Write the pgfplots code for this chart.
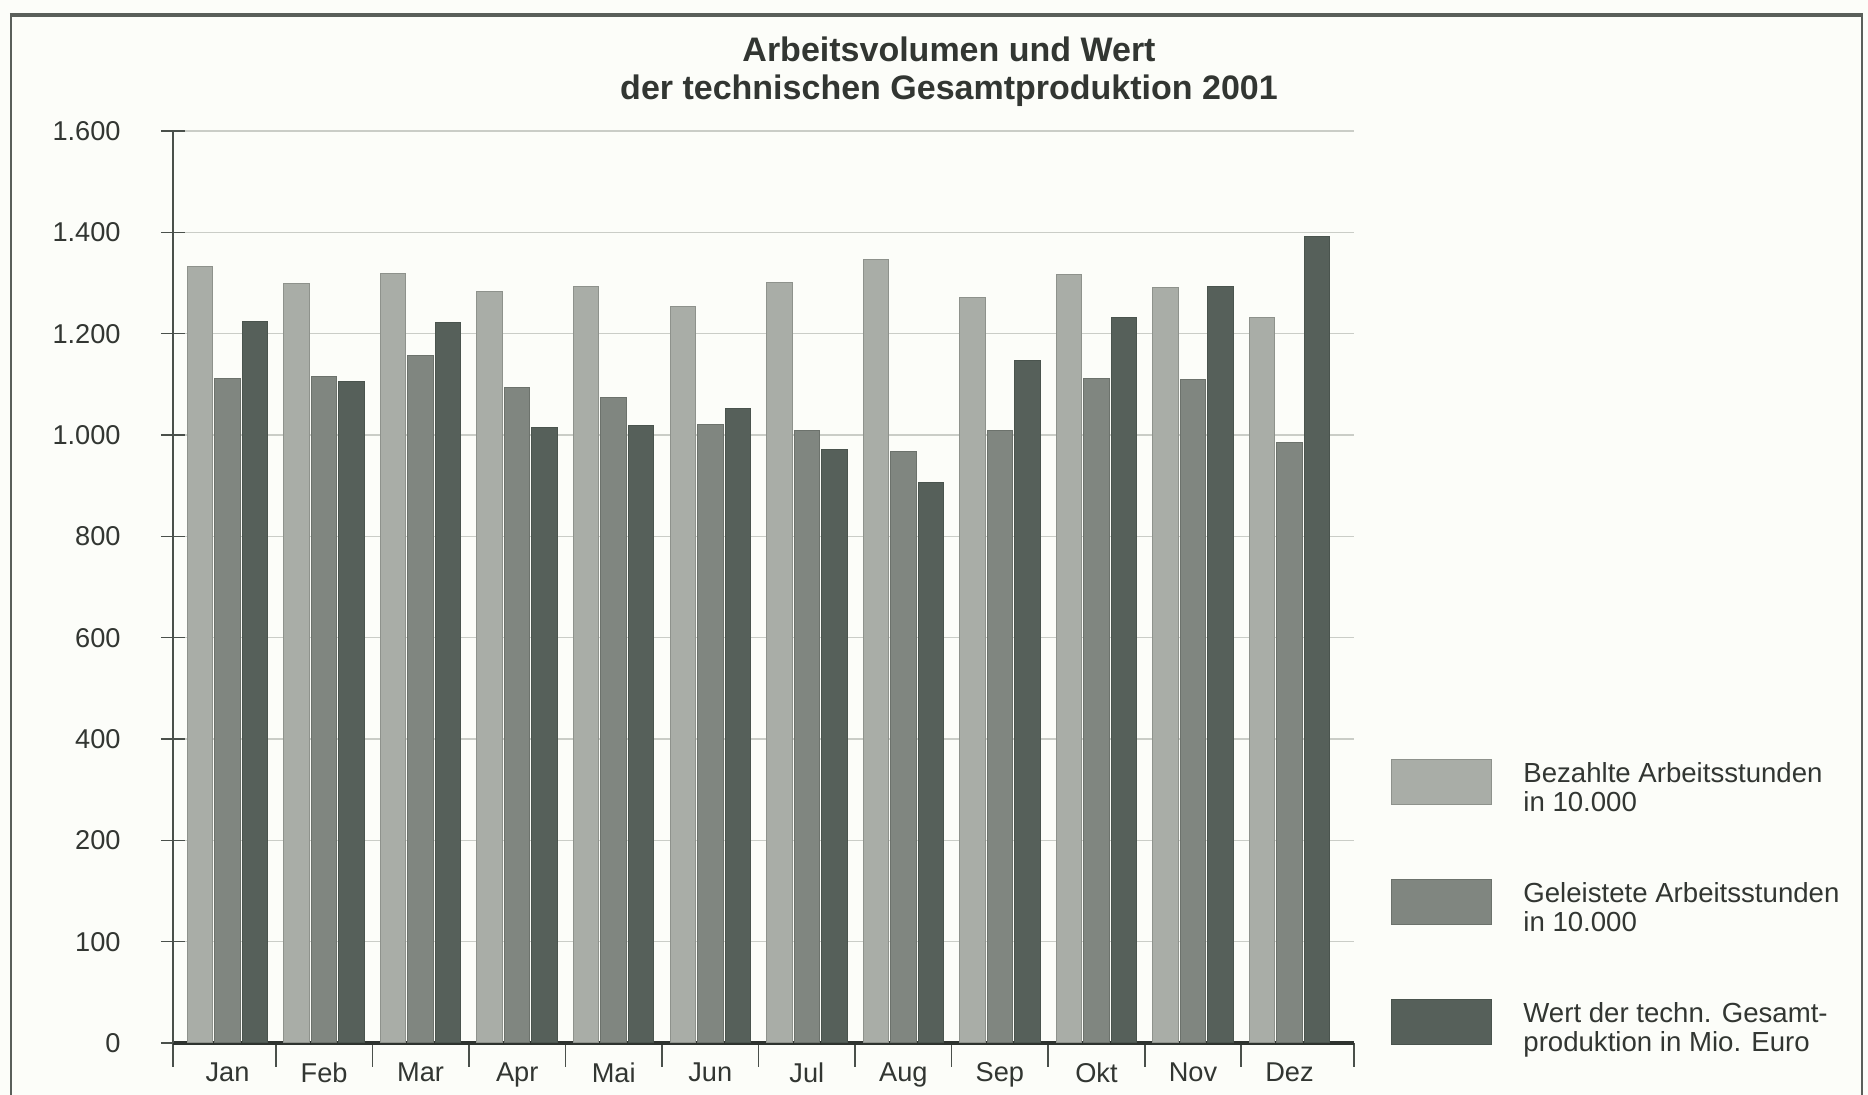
\documentclass[border=0pt]{standalone}
\usepackage{fontspec}
\setmainfont{Liberation Sans}
\usepackage{pgfplots}
\usepackage{pgfplotstable}
\pgfplotsset{compat=1.18}

\definecolor{bgc}{HTML}{FCFDF9}
\definecolor{lightb}{HTML}{A9ADA7}
\definecolor{lightedge}{HTML}{8E928C}
\definecolor{midb}{HTML}{808680}
\definecolor{midedge}{HTML}{6C726C}
\definecolor{darkb}{HTML}{56605A}
\definecolor{darkedge}{HTML}{4A544E}
\definecolor{txt}{HTML}{323632}
\definecolor{gridc}{HTML}{CACDC7}
\definecolor{axc}{HTML}{4A504B}
\definecolor{axdark}{HTML}{2E332F}
\definecolor{framec}{HTML}{5A5F5A}

\pgfplotstableread{
idx bez gel wert
0 1333 1111 1223
1 1298 1115 1105
2 1318 1156 1222
3 1283 1093 1015
4 1294 1073 1019
5 1253 1020 1052
6 1300 1009 972
7 1347 967 906
8 1271 1009 1147
9 1317 1112 1232
10 1291 1109 1294
11 1232 985 1392
}\datatable

\begin{document}
\begin{tikzpicture}
\fill[bgc] (-86.5pt,-26pt) rectangle (847.5pt,521.5pt);
\useasboundingbox (-86.5pt,-26pt) rectangle (847.5pt,521.5pt);
\draw[framec, line width=1.1pt] (-81pt,-30pt) -- (-81pt,514pt);
\draw[framec, line width=1.1pt] (844.5pt,-30pt) -- (844.5pt,514pt);
\draw[framec, line width=1.6pt] (-81.5pt,514pt) -- (845pt,514pt);
\begin{axis}[
  at={(0,0)}, anchor=south west,
  scale only axis, width=590.5pt, height=456pt,
  xmin=-0.565, xmax=11.668, ymin=0, ymax=1600,
  y coord trafo/.code={\pgfmathparse{ifthenelse(#1<200,2*#1,#1+200)}},
  y coord inv trafo/.code={\pgfmathparse{ifthenelse(#1<400,#1/2,#1-200)}},
  ytick={0,100,200,400,600,800,1000,1200,1400,1600},
  yticklabels={0,100,200,400,600,800,1.000,1.200,1.400,1.600},
  xtick={-0.565,0.5,1.5,2.5,3.5,4.5,5.5,6.5,7.5,8.5,9.5,10.5,11.668},
  xticklabels={{},{},{},{},{},{},{},{},{},{},{},{},{}},
  extra x ticks={0,1,2,3,4,5,6,7,8,9,10,11},
  extra x tick labels={Jan,Feb,Mar,Apr,Mai,Jun,Jul,Aug,Sep,Okt,Nov,Dez},
  extra x tick style={major tick length=0pt, grid=none},
  axis x line=bottom, axis y line=left,
  x axis line style={-, line width=2pt, color=axdark},
  y axis line style={-, line width=0.8pt, color=axc},
  tick align=center, major tick length=12pt,
  tick style={line width=0.8pt, color=axc},
  ymajorgrids, grid style={line width=0.6pt, color=gridc},
  ybar=1pt, bar width=12.75pt,
  tick label style={font=\fontsize{13.6}{15}\selectfont, color=txt},
  yticklabel style={anchor=east, inner sep=0pt, xshift=-20pt},
  xticklabel style={anchor=north, inner sep=0pt, yshift=-9.5pt},
  legend image code/.code={\draw[#1] (0pt,-11.25pt) rectangle (50pt,11.25pt);},
  legend cell align=left,
  legend style={draw=none, fill=none, at={(1.02625,0.3163)}, anchor=north west,
    row sep=37pt, column sep=15.5pt,
    nodes={inner sep=0pt, font=\fontsize{13.8}{14.5}\selectfont, text=txt}},
]
\addplot[fill=lightb, draw=lightedge, line width=0.5pt] table[x=idx,y=bez]{\datatable};
\addlegendentry{\begin{tabular}{@{}l@{}}Bezahlte Arbeitsstunden\\in 10.000\end{tabular}}
\addplot[fill=midb, draw=midedge, line width=0.5pt] table[x=idx,y=gel]{\datatable};
\addlegendentry{\begin{tabular}{@{}l@{}}Geleistete Arbeitsstunden\\in 10.000\end{tabular}}
\addplot[fill=darkb, draw=darkedge, line width=0.5pt] table[x=idx,y=wert]{\datatable};
\addlegendentry{\begin{tabular}{@{}l@{}}Wert der techn. Gesamt-\\produktion in Mio. Euro\end{tabular}}
\end{axis}
\node[align=center, font=\fontsize{17}{19}\selectfont\bfseries, text=txt] at (388pt,485.5pt) {Arbeitsvolumen und Wert\\der technischen Gesamtproduktion 2001};
\end{tikzpicture}
\end{document}
